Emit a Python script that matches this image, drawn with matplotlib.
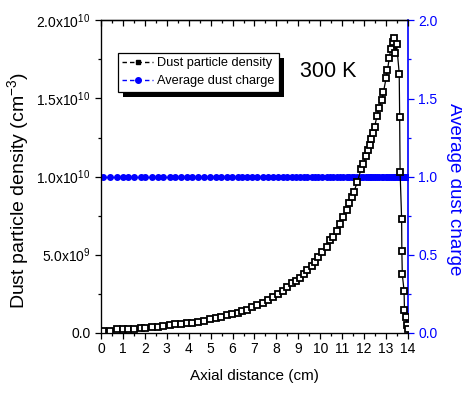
import matplotlib
matplotlib.use("Agg")
import matplotlib.pyplot as plt
from matplotlib.ticker import MultipleLocator, FixedLocator
from matplotlib.lines import Line2D
from matplotlib.patches import Rectangle
from matplotlib.transforms import IdentityTransform

plt.rcParams['font.family'] = ['Liberation Sans', 'DejaVu Sans']
plt.rcParams['mathtext.fontset'] = 'custom'
plt.rcParams['mathtext.rm'] = 'Liberation Sans'
plt.rcParams['mathtext.it'] = 'Liberation Sans:italic'
plt.rcParams['mathtext.bf'] = 'Liberation Sans:bold'

# axial distance (cm)
distance = [0.10, 0.41, 0.72, 1.02, 1.25, 1.52, 1.82, 2.00, 2.31, 2.58,
            2.84, 3.15, 3.38, 3.65, 3.91, 4.16, 4.44, 4.71, 4.97, 5.23,
            5.47, 5.73, 5.99, 6.23, 6.42, 6.64, 6.87, 7.13, 7.37, 7.63,
            7.86, 8.09, 8.28, 8.47, 8.70, 8.89, 9.07, 9.25, 9.41, 9.61,
            9.76, 9.91, 10.10, 10.29, 10.44, 10.60, 10.75, 10.90, 11.05, 11.20,
            11.31, 11.43, 11.54, 11.69, 11.87, 11.97, 12.08, 12.18, 12.25, 12.30,
            12.39, 12.48, 12.59, 12.68, 12.80, 12.88, 13.00, 13.06, 13.15, 13.21,
            13.33, 13.37, 13.43, 13.48, 13.60, 13.62, 13.64, 13.71, 13.72, 13.74,
            13.82, 13.84, 13.91, 13.95, 14.00]

# dust particle density in units of 1e9 cm^-3
density_e9 = [0.12, 0.12, 0.20, 0.20, 0.20, 0.20, 0.27, 0.27, 0.37, 0.37,
              0.42, 0.48, 0.52, 0.52, 0.59, 0.63, 0.69, 0.76, 0.85, 0.91,
              1.01, 1.12, 1.18, 1.24, 1.35, 1.46, 1.62, 1.74, 1.87, 2.10,
              2.26, 2.45, 2.68, 2.90, 3.15, 3.32, 3.52, 3.75, 4.00, 4.28,
              4.54, 4.86, 5.18, 5.50, 5.93, 6.10, 6.53, 6.96, 7.42, 7.85,
              8.28, 8.70, 9.03, 9.67, 10.5, 10.8, 11.3, 11.7, 12.0, 12.4,
              12.8, 13.2, 13.9, 14.4, 14.9, 15.4, 16.3, 16.8, 17.6, 18.2,
              18.6, 18.86, 17.9, 18.5, 16.6, 13.8, 10.3, 7.26, 5.24, 3.73,
              2.68, 1.44, 1.00, 0.50, 0.20]

# average dust charge, flat along the axis
charge = [1.0] * len(distance)

density_ticks = [0, 5e9, 1e10, 1.5e10, 2e10]
density_labels = ['0.0', r'5.0x10$^{9}$', r'1.0x10$^{10}$', r'1.5x10$^{10}$', r'2.0x10$^{10}$']
charge_ticks = [0.0, 0.5, 1.0, 1.5, 2.0]

BLUE = '#0000ff'

fig = plt.figure(figsize=(4.62, 3.94), dpi=100)
ax = fig.add_axes([0.2186, 0.156, 0.6645, 0.792])
ax2 = ax.twinx()

density = [d * 1e9 for d in density_e9]
ax.plot(distance, density, color='black', lw=0.9, marker='s', ms=4.0,
        mfc='white', mec='black', mew=1.3)
ax2.plot(distance, charge, color=BLUE, lw=0.9, marker='o', ms=4.0,
         mfc=BLUE, mec=BLUE)

# density on top of the charge line
ax.set_zorder(ax2.get_zorder() + 1)
ax.patch.set_visible(False)

ax.set_xlim(0, 14)
ax.set_ylim(0, 2e10)
ax2.set_ylim(0, 2.0)

ax.xaxis.set_major_locator(MultipleLocator(1))
ax.xaxis.set_minor_locator(MultipleLocator(0.5))
ax.yaxis.set_major_locator(FixedLocator(density_ticks))
ax.set_yticklabels(density_labels)
ax.yaxis.set_minor_locator(MultipleLocator(2.5e9))
ax2.yaxis.set_major_locator(FixedLocator(charge_ticks))
ax2.set_yticklabels(['%.1f' % t for t in charge_ticks])
ax2.yaxis.set_minor_locator(MultipleLocator(0.25))

ax.tick_params(axis='both', which='both', direction='out', labelsize=10, top=False, right=False)
ax.tick_params(which='major', length=4, width=0.9)
ax.tick_params(which='minor', length=2.5, width=0.9)
ax.tick_params(axis='x', pad=3)

top = ax.secondary_xaxis('top')
top.xaxis.set_major_locator(MultipleLocator(1))
top.xaxis.set_minor_locator(MultipleLocator(0.5))
top.tick_params(which='both', direction='in', labeltop=False, width=0.9)
top.tick_params(which='major', length=4)
top.tick_params(which='minor', length=2.5)

ax2.tick_params(axis='y', which='both', direction='out', colors=BLUE, labelsize=10, width=0.9)
ax2.tick_params(which='major', length=4)
ax2.tick_params(which='minor', length=2.5)

for s in ['left', 'bottom', 'top']:
    ax.spines[s].set_linewidth(0.9)
ax2.spines['right'].set_color(BLUE)
ax2.spines['right'].set_linewidth(1.2)
ax.spines['right'].set_visible(False)
top.spines['top'].set_linewidth(0.9)

ax.set_xlabel('Axial distance (cm)', fontsize=11, labelpad=9)
ax.set_ylabel(r'Dust particle density (cm$^{-3}$)', fontsize=14)
ax.yaxis.set_label_coords(-0.228, 0.454)
ax2.set_ylabel('Average dust charge', fontsize=13.5, color=BLUE, rotation=270)
ax2.yaxis.set_label_coords(1.178, 0.458)

ax.text(0.74, 0.838, '300 K', transform=ax.transAxes, fontsize=15.5, ha='center', va='center')

# legend handles drawn like the original: dashed stub with the symbol in the middle
handles = [
    Line2D([], [], color='black', lw=1.0, ls=(0, (3.2, 2.2)), marker='s', ms=3.5,
           mfc='black', mec='black'),
    Line2D([], [], color=BLUE, lw=1.0, ls=(0, (3.2, 2.2)), marker='o', ms=4,
           mfc=BLUE, mec=BLUE),
]
labels = ['Dust particle density', 'Average dust charge']
leg = ax.legend(handles, labels, loc='upper left', bbox_to_anchor=(0.055, 0.896),
                fontsize=9.2, frameon=True, fancybox=False, edgecolor='black',
                framealpha=1.0, handlelength=2.4, handletextpad=0.3, borderpad=0.35,
                labelspacing=0.45, borderaxespad=0)
leg.get_frame().set_linewidth(0.9)
leg.get_frame().set_facecolor('white')
leg.set_zorder(6)

# solid black drop shadow, offset down-right
fig.canvas.draw()
bb = leg.get_window_extent()
ax.add_patch(Rectangle((bb.x0 + 5, bb.y0 - 5), bb.width, bb.height,
                       transform=IdentityTransform(), facecolor='black',
                       edgecolor='none', zorder=5.5, clip_on=False))

fig.savefig('out.png', dpi=100)
